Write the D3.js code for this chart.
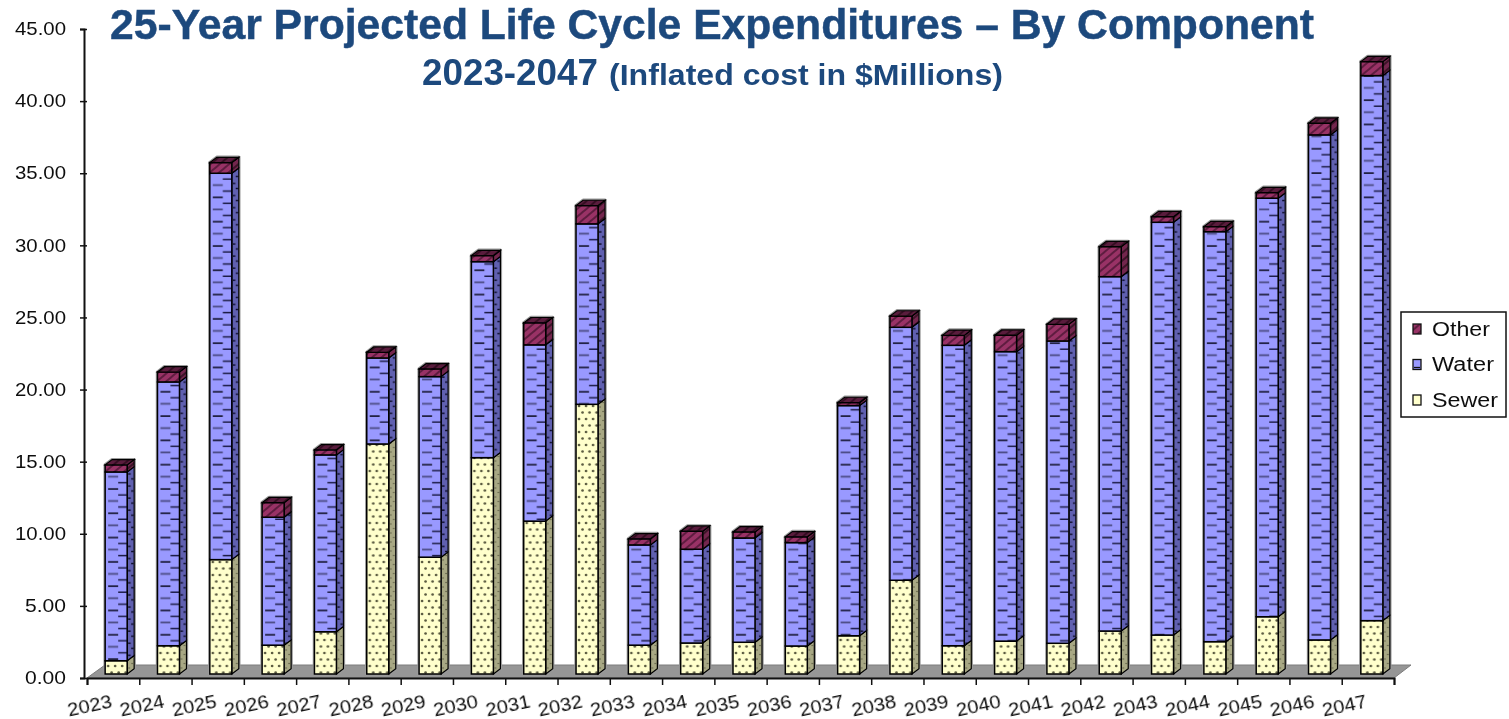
<!DOCTYPE html>
<html>
<head>
<meta charset="utf-8">
<title>25-Year Projected Life Cycle Expenditures</title>
<script src="https://cdn.jsdelivr.net/npm/d3@7"></script>
<style>
  html, body { margin: 0; background: #fff; }
  svg { display: block; }
  text { font-family: "Liberation Sans", Arial, sans-serif; fill: #111; }
</style>
</head>
<body>
<svg id="chart" width="1509" height="719"></svg>
<script>
var years = [2023, 2024, 2025, 2026, 2027, 2028, 2029, 2030, 2031, 2032, 2033, 2034, 2035,
             2036, 2037, 2038, 2039, 2040, 2041, 2042, 2043, 2044, 2045, 2046, 2047];
var sewer = [0.92, 1.96, 7.93, 2.0, 2.93, 15.95, 8.1, 15.0, 10.6, 18.7, 2.0, 2.15, 2.2,
             1.94, 2.65, 6.5, 1.96, 2.28, 2.13, 2.98, 2.7, 2.24, 3.97, 2.36, 3.7];
var water = [13.09, 18.29, 26.79, 8.87, 12.26, 5.96, 12.52, 13.59, 12.22, 12.51, 6.95, 6.5, 7.23,
             7.17, 15.96, 17.54, 20.83, 20.07, 20.96, 24.57, 28.62, 28.43, 29.02, 35.02, 37.79];
var other = [0.49, 0.69, 0.74, 1.01, 0.35, 0.4, 0.53, 0.42, 1.53, 1.27, 0.42, 1.25, 0.42,
             0.4, 0.21, 0.78, 0.69, 1.14, 1.16, 2.08, 0.39, 0.35, 0.39, 0.81, 0.97];
var seriesNames = ["Sewer", "Water", "Other"];
var legendNames = ["Other", "Water", "Sewer"];
var yTicks = [0, 5, 10, 15, 20, 25, 30, 35, 40, 45];

var svg = d3.select("#chart"),
    defs = svg.append("defs");

var yScale = d3.scaleLinear().domain([0, 45]).range([678, 29]);

// band width is 22px out of a 52.3px step
var pad = 1 - 22 / (1308 / 25);
var xScale = d3.scaleBand().domain(years).range([87, 1395]).paddingInner(pad).paddingOuter(pad / 2);
var xTickScale = d3.scaleLinear().domain([0, 25]).range([87, 1394]);

var barW = xScale.bandwidth(),
    shift = 3,     // bars sit a little right of the middle of the band
    depthX = 7,
    depthY = 5.3,
    lift = 4;      // front of bars stands on the floor, above the axis line

var rows = years.map(function(d, i) {
  return {year: d, Sewer: sewer[i], Water: water[i], Other: other[i]};
});
var stacked = d3.stack().keys(seriesNames)(rows);

var colors = {
  Sewer: {front: "#ffffcc", side: "#a8a884"},
  Water: {front: "#9999ff", side: "#6060b0"},
  Other: {front: "#993366", side: "#73264d", top: "#5a1c3c"}
};

function makePattern(id, bg, x0, height) {
  var p = defs.append("pattern")
    .attr("id", id)
    .attr("patternUnits", "userSpaceOnUse")
    .attr("width", xScale.step())
    .attr("height", height)
    .attr("patternTransform", "translate(" + (xScale(years[0]) + shift + x0) + ",0)");
  p.append("rect").attr("width", xScale.step()).attr("height", height).attr("fill", bg);
  return p;
}

function dash(p, x1, x2, yy, color, w) {
  p.append("line").attr("x1", x1).attr("x2", x2).attr("y1", yy).attr("y2", yy)
    .attr("stroke", color).attr("stroke-width", w || 1.5);
}

// water front: staggered dashes, alternating dark and grey
var wf = makePattern("water-front", colors.Water.front, 0, 24.3);
dash(wf, 3, 13, 3, "#0c0c22");
dash(wf, 13, 22, 9, "#1c1c44");
dash(wf, 3, 13, 15, "#4c4c86", 1.8);
dash(wf, 13, 22, 21, "#1c1c44");
var ws = makePattern("water-side", colors.Water.side, barW, 12.1);
dash(ws, 1, 3.5, 2, "#0a0a26", 1.4);
dash(ws, 4, 6.5, 7, "#0a0a26", 1.4);

// sewer front: staggered dots
var sf = makePattern("sewer-front", colors.Sewer.front, 0, 13);
[3, 10, 17].forEach(function(cx) {
  sf.append("circle").attr("cx", cx).attr("cy", 3).attr("r", 1.35).attr("fill", "#5a5a40");
});
[6.5, 13.5, 20.5].forEach(function(cx) {
  sf.append("circle").attr("cx", cx).attr("cy", 9.5).attr("r", 1.35).attr("fill", "#5a5a40");
});
var ss = makePattern("sewer-side", colors.Sewer.side, barW, 9);
ss.append("circle").attr("cx", 2).attr("cy", 2).attr("r", 0.8).attr("fill", "#5d5d44");
ss.append("circle").attr("cx", 5).attr("cy", 6.5).attr("r", 0.8).attr("fill", "#5d5d44");

// other: diagonal hatch, rising to the right
function hatch(id, bg, line, w) {
  var p = defs.append("pattern")
    .attr("id", id)
    .attr("patternUnits", "userSpaceOnUse")
    .attr("width", 6)
    .attr("height", 6)
    .attr("patternTransform", "rotate(-40)");
  p.append("rect").attr("width", 6).attr("height", 6).attr("fill", bg);
  p.append("line").attr("x1", 0).attr("x2", 6).attr("y1", 3).attr("y2", 3)
    .attr("stroke", line).attr("stroke-width", w);
}
hatch("other-front", colors.Other.front, "#3d1029", 1.3);
hatch("other-side", colors.Other.side, "#2c0c1e", 1.6);
hatch("other-top", colors.Other.top, "#2c0c1e", 1.6);

var blur = defs.append("filter").attr("id", "soft");
blur.append("feGaussianBlur").attr("stdDeviation", 0.45);
var blurText = defs.append("filter").attr("id", "soft-text");
blurText.append("feGaussianBlur").attr("stdDeviation", 0.3);

var fills = {
  Sewer: {front: "url(#sewer-front)", side: "url(#sewer-side)"},
  Water: {front: "url(#water-front)", side: "url(#water-side)"},
  Other: {front: "url(#other-front)", side: "url(#other-side)"}
};

var line = d3.line().curve(d3.curveLinearClosed);

// floor
svg.append("path")
  .attr("d", line([[xTickScale(0), yScale(0)], [xTickScale(25), yScale(0)],
                   [xTickScale(25) + 17, yScale(0) - 13], [xTickScale(0) + 18, yScale(0) - 13]]))
  .attr("fill", "#969696")
  .attr("stroke", "#7d7d7d")
  .attr("stroke-width", 1);

// bars
var marks = svg.append("g").attr("filter", "url(#soft)");

function px(d) { return xScale(d.data.year) + shift; }
function py(v) { return yScale(v) - lift; }

// soft grey shadow round each whole bar
marks.selectAll("path.shadow")
  .data(stacked[2])
  .join("path")
  .attr("class", "shadow")
  .attr("d", function(d) {
    var x = px(d);
    return line([[x, py(0)], [x + barW, py(0)], [x + barW + depthX, py(0) - depthY],
                 [x + barW + depthX, py(d[1]) - depthY], [x + depthX, py(d[1]) - depthY], [x, py(d[1])]]);
  })
  .attr("fill", "none")
  .attr("stroke", "#9a9a9a")
  .attr("stroke-width", 3.4)
  .attr("stroke-linejoin", "round");

var layers = marks.selectAll("g.layer")
  .data(stacked)
  .join("g")
  .attr("class", "layer");

layers.each(function(series) {
  var g = d3.select(this), name = series.key;

  g.selectAll("path.side")
    .data(series)
    .join("path")
    .attr("class", "side")
    .attr("d", function(d) {
      var x = px(d) + barW;
      return line([[x, py(d[0])], [x + depthX, py(d[0]) - depthY],
                   [x + depthX, py(d[1]) - depthY], [x, py(d[1])]]);
    })
    .attr("fill", fills[name].side)
    .attr("stroke", "#000")
    .attr("stroke-width", 1.2);

  g.selectAll("rect.front")
    .data(series)
    .join("rect")
    .attr("class", "front")
    .attr("x", px)
    .attr("y", function(d) { return py(d[1]); })
    .attr("width", barW)
    .attr("height", function(d) { return py(d[0]) - py(d[1]); })
    .attr("fill", fills[name].front)
    .attr("stroke", "#000")
    .attr("stroke-width", 1.5);

  if (name === "Other") {
    g.selectAll("path.top")
      .data(series)
      .join("path")
      .attr("class", "top")
      .attr("d", function(d) {
        var x = px(d);
        return line([[x, py(d[1])], [x + barW, py(d[1])],
                     [x + barW + depthX, py(d[1]) - depthY], [x + depthX, py(d[1]) - depthY]]);
      })
      .attr("fill", "url(#other-top)")
      .attr("stroke", "#000")
      .attr("stroke-width", 1.2);
  }
});

// y axis
var yAxis = d3.axisLeft(yScale)
  .tickValues(yTicks)
  .tickFormat(d3.format(".2f"))
  .tickSize(4)
  .tickPadding(14);

var yG = svg.append("g")
  .attr("transform", "translate(84,0)")
  .call(yAxis);
yG.select(".domain").attr("stroke", "#111").attr("stroke-width", 2);
yG.selectAll(".tick line").attr("x1", 3).attr("stroke", "#111").attr("stroke-width", 1.5);
yG.selectAll(".tick text")
  .style("font-size", "18px")
  .attr("fill", "#111")
  .attr("filter", "url(#soft-text)")
  .attr("textLength", function(d) { return d < 10 ? 41 : 51; })
  .attr("lengthAdjust", "spacingAndGlyphs");

// x axis, ticks between the bars and the year labels tipped up
var xAxis = d3.axisBottom(xTickScale)
  .tickValues(d3.range(0, 26))
  .tickFormat(function(d) { return d < years.length ? years[d] : ""; })
  .tickSize(7);

var xG = svg.append("g")
  .attr("transform", "translate(0," + yScale(0) + ")")
  .call(xAxis);
xG.select(".domain").attr("stroke", "#111").attr("stroke-width", 2);
xG.selectAll(".tick line").attr("stroke", "#111").attr("stroke-width", 1.5);
xG.selectAll(".tick text")
  .attr("text-anchor", "middle")
  .attr("x", 2)
  .attr("y", 34)
  .attr("dy", null)
  .attr("transform", "rotate(-12 2 27)")
  .attr("filter", "url(#soft-text)")
  .style("font-size", "19px")
  .attr("fill", "#111")
  .attr("textLength", 45)
  .attr("lengthAdjust", "spacingAndGlyphs");

// titles
var titles = svg.append("g").attr("filter", "url(#soft-text)");
titles.append("text")
  .attr("x", 110)
  .attr("y", 39)
  .attr("textLength", 1204)
  .attr("lengthAdjust", "spacingAndGlyphs")
  .style("font-size", "43px")
  .style("font-weight", "bold")
  .style("fill", "#1f497d")
  .style("stroke", "#1f497d")
  .style("stroke-width", 0.5)
  .text("25-Year Projected Life Cycle Expenditures – By Component");

titles.append("text")
  .attr("x", 422)
  .attr("y", 85)
  .attr("textLength", 176)
  .attr("lengthAdjust", "spacingAndGlyphs")
  .style("font-size", "37px")
  .style("font-weight", "bold")
  .style("fill", "#1f497d")
  .text("2023-2047");

titles.append("text")
  .attr("x", 609)
  .attr("y", 85)
  .attr("textLength", 394)
  .attr("lengthAdjust", "spacingAndGlyphs")
  .style("font-size", "30px")
  .style("font-weight", "bold")
  .style("fill", "#1f497d")
  .text("(Inflated cost in $Millions)");

// legend
var legendG = svg.append("g");
legendG.append("rect")
  .attr("x", 1401).attr("y", 312).attr("width", 105).attr("height", 105)
  .attr("fill", "#fff").attr("stroke", "#111").attr("stroke-width", 1.5);

var legendY = d3.scalePoint().domain(legendNames).range([329, 400]);
var legendWidths = {Other: 58, Water: 62, Sewer: 66};

var items = legendG.selectAll("g.item")
  .data(legendNames)
  .join("g")
  .attr("class", "item")
  .attr("transform", function(d) { return "translate(0," + legendY(d) + ")"; });

items.append("rect")
  .attr("x", 1413).attr("y", -5).attr("width", 8).attr("height", 10)
  .attr("fill", function(d) { return d === "Other" ? fills.Other.front : colors[d].front; })
  .attr("stroke", "#111").attr("stroke-width", 1.3);

// the water swatch shows a piece of its dash along the bottom
items.filter(function(d) { return d === "Water"; })
  .append("line")
  .attr("x1", 1414).attr("x2", 1420).attr("y1", 3).attr("y2", 3)
  .attr("stroke", "#111").attr("stroke-width", 1.3);

items.append("text")
  .attr("x", 1432)
  .attr("y", 6.5)
  .attr("textLength", function(d) { return legendWidths[d]; })
  .attr("lengthAdjust", "spacingAndGlyphs")
  .attr("filter", "url(#soft-text)")
  .style("font-size", "20px")
  .text(function(d) { return d; });
</script>
</body>
</html>
